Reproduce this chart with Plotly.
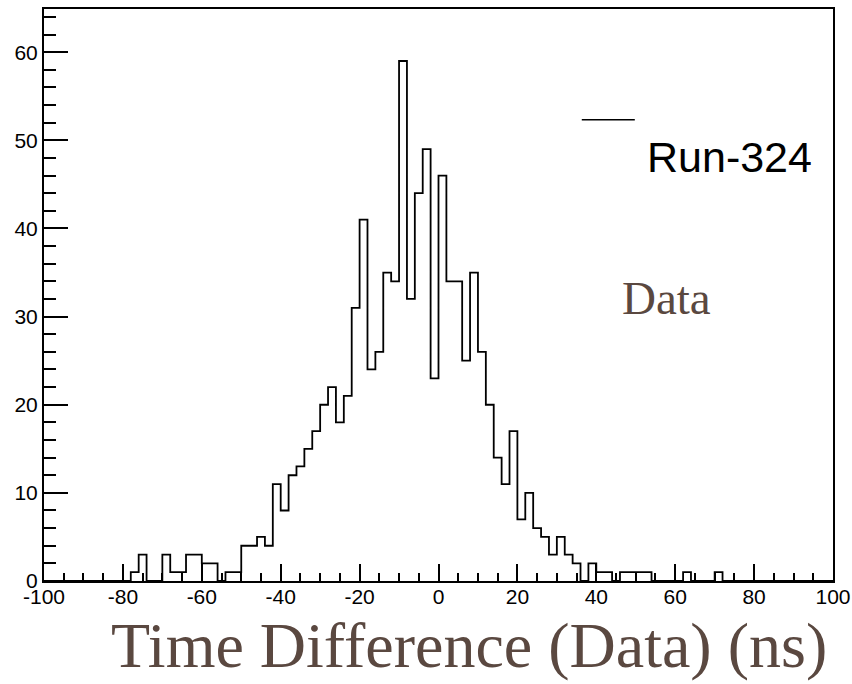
import numpy as np
import plotly.graph_objects as go

# Histogram of time differences, 2 ns bins from -100 to 100 ns
x_min, x_max, bin_width = -100, 100, 2
counts = [
    0, 0, 0, 0, 0, 0, 0, 0, 0, 0,      # -100 .. -82
    0, 1, 3, 0, 0, 3, 1, 1, 3, 3,      # -80 .. -62
    2, 2, 0, 1, 1, 4, 4, 5, 4, 11,     # -60 .. -42
    8, 12, 13, 15, 17, 20, 22, 18, 21, 31,   # -40 .. -22
    41, 24, 26, 35, 34, 59, 32, 44, 49, 23,  # -20 .. -2
    46, 34, 34, 25, 35, 26, 20, 14, 11, 17,  # 0 .. 18
    7, 10, 6, 5, 3, 5, 3, 2, 0, 2,     # 20 .. 38
    1, 1, 0, 1, 1, 1, 1, 0, 0, 0,      # 40 .. 58
    0, 1, 0, 0, 0, 1, 0, 0, 0, 0,      # 60 .. 78
    0, 0, 0, 0, 0, 0, 0, 0, 0, 0,      # 80 .. 98
]
x_tick_values = [-100, -80, -60, -40, -20, 0, 20, 40, 60, 80, 100]
x_tick_labels = ["-100", "-80", "-60", "-40", "-20", "0", "20", "40", "60", "80", "100"]
series_name = "Run-324"
x_title = "Time Difference (Data) (ns)"
y_max = 1.1 * max(counts)

edges = np.arange(x_min, x_max + bin_width, bin_width)
step_x = list(edges)
step_y = list(counts) + [counts[-1]]

brown = "#5a4840"

fig = go.Figure()
fig.add_trace(go.Scatter(
    x=step_x, y=step_y, mode="lines", line_shape="hv",
    line=dict(color="black", width=1.8), name=series_name, showlegend=False,
))

axis_font = dict(family="Liberation Sans, Arial, sans-serif", size=21, color="black")

fig.update_xaxes(
    range=[x_min, x_max], tickvals=x_tick_values, ticktext=x_tick_labels,
    ticks="inside", ticklen=17, tickwidth=1.5, tickcolor="black",
    minor=dict(dtick=5, tick0=-100, ticks="inside", ticklen=8, tickwidth=1.5, tickcolor="black"),
    showline=True, linecolor="black", linewidth=2, mirror=True,
    showgrid=False, zeroline=False, tickfont=axis_font, automargin=False,
    ticklabelstandoff=-4,
)
fig.update_yaxes(
    range=[0, y_max], dtick=10, tick0=0,
    ticks="inside", ticklen=24, tickwidth=1.5, tickcolor="black",
    minor=dict(dtick=2, ticks="inside", ticklen=12, tickwidth=1.5, tickcolor="black"),
    showline=True, linecolor="black", linewidth=2, mirror=True,
    showgrid=False, zeroline=False, tickfont=axis_font, automargin=False,
)

# Legend entry: sample line with the run label
fig.add_shape(type="line", xref="paper", yref="paper",
              x0=0.6816, x1=0.7488, y0=0.8063, y1=0.8063,
              line=dict(color="black", width=1.5))
fig.add_annotation(text=series_name, xref="paper", yref="paper",
                   x=0.7615, y=0.7415, xanchor="left", yanchor="middle",
                   showarrow=False,
                   font=dict(family="Liberation Sans, Arial, sans-serif", size=43, color="black"))

fig.add_annotation(text="Data", xref="paper", yref="paper",
                   x=0.789, y=0.4948, xanchor="center", yanchor="middle",
                   showarrow=False,
                   font=dict(family="Liberation Serif, Times New Roman, serif", size=47, color=brown))

fig.add_annotation(text=x_title, xref="paper", yref="paper",
                   x=0.995, y=-0.113, xanchor="right", yanchor="middle",
                   showarrow=False,
                   font=dict(family="Liberation Serif, Times New Roman, serif", size=64, color=brown))

fig.update_layout(
    width=852, height=684,
    margin=dict(l=44, r=19, t=9, b=103, pad=0),
    plot_bgcolor="white", paper_bgcolor="white",
    showlegend=False,
)

fig.write_html("out.html")
